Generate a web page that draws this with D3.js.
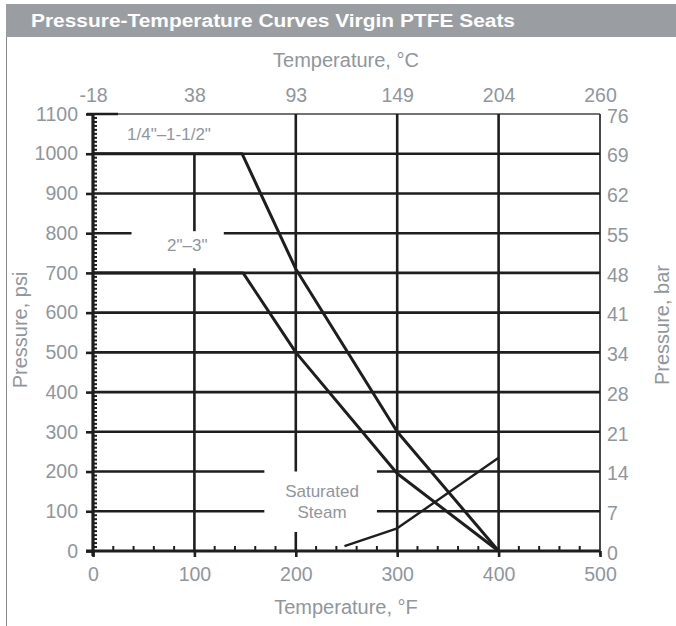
<!DOCTYPE html>
<html><head><meta charset="utf-8">
<script src="https://cdn.jsdelivr.net/npm/d3@7/dist/d3.min.js"></script>
<style>
html,body{margin:0;padding:0;background:#fff;}
svg{display:block;}
</style></head>
<body>
<script>
// ---- data ----
const fTicks = [0, 100, 200, 300, 400, 500];
const cLabels = ["-18", "38", "93", "149", "204", "260"];
const psiTicks = [0, 100, 200, 300, 400, 500, 600, 700, 800, 900, 1000, 1100];
const barLabels = ["0", "7", "14", "21", "28", "34", "41", "48", "55", "62", "69", "76"];
const smallSizesF = [0, 147, 200, 300, 400];
const smallSizesPsi = [1000, 1000, 710, 300, 0];
const largeSizesF = [0, 148, 200, 300, 400];
const largeSizesPsi = [700, 700, 500, 195, 0];
const steamF = [248, 300, 400];
const steamPsi = [12, 57, 235];
// gridline pieces (pressure value, [from °F, to °F]) and (temperature value, [from psi, to psi])
const hGrid = [
  [100, [[0, 169], [280, 500]]],
  [200, [[0, 169], [280, 500]]],
  [300, [[0, 500]]], [400, [[0, 500]]], [500, [[0, 500]]], [600, [[0, 500]]],
  [700, [[0, 500]]],
  [800, [[0, 38], [129, 500]]],
  [900, [[0, 500]]], [1000, [[0, 500]]]
];
const vGrid = [
  [100, [[0, 712], [805, 1000]]],
  [200, [[0, 48], [200, 1100]]],
  [300, [[0, 1100]]],
  [400, [[0, 1100]]]
];

const W = 676, H = 626;
const svg = d3.select("body").append("svg").attr("width", W).attr("height", H);
const x = d3.scaleLinear().domain([0, 500]).range([93, 600]);
const y = d3.scaleLinear().domain([0, 1100]).range([551, 114]);
const ink = "#1e1e1e", grey = "#8f969d";
const font = "'Liberation Sans', Arial, sans-serif";

// frame + title bar
svg.append("rect").attr("x", 6).attr("y", 4).attr("width", W - 6).attr("height", 33).attr("fill", "#9a9ea2");
svg.append("line").attr("x1", 6.5).attr("x2", 6.5).attr("y1", 37).attr("y2", H).attr("stroke", "#8a8a8a").attr("stroke-width", 1);
svg.append("text").attr("x", 31).attr("y", 27).attr("fill", "#fff").attr("font-family", font)
  .attr("font-weight", "bold").attr("font-size", 18).attr("textLength", 484).attr("lengthAdjust", "spacingAndGlyphs")
  .text("Pressure-Temperature Curves Virgin PTFE Seats");

const g = svg.append("g");

// top and right borders (thin)
g.append("line").attr("x1", x(0)).attr("x2", x(500)).attr("y1", y(1100)).attr("y2", y(1100)).attr("stroke", "#444").attr("stroke-width", 1.5);
g.append("line").attr("x1", x(0) - 6).attr("x2", x(0) + 25).attr("y1", y(1100)).attr("y2", y(1100)).attr("stroke", ink).attr("stroke-width", 2.5);
g.append("line").attr("x1", x(500)).attr("x2", x(500)).attr("y1", y(1100)).attr("y2", y(0) + 4).attr("stroke", "#333").attr("stroke-width", 1.8);

// horizontal gridlines
hGrid.forEach(([p, segs]) => segs.forEach(([a, b]) => {
  g.append("line").attr("x1", x(a)).attr("x2", x(b)).attr("y1", y(p)).attr("y2", y(p))
    .attr("stroke", ink).attr("stroke-width", 2.6);
}));
// vertical gridlines
vGrid.forEach(([t, segs]) => segs.forEach(([a, b]) => {
  g.append("line").attr("x1", x(t)).attr("x2", x(t)).attr("y1", y(a)).attr("y2", y(b))
    .attr("stroke", ink).attr("stroke-width", 2.6);
}));

// minor ticks
const minorP = d3.range(10, 1100, 10).filter(v => v % 100 !== 0);
g.selectAll(".mp").data(minorP).join("line")
  .attr("x1", x(0)).attr("x2", x(0) + 4).attr("y1", d => y(d)).attr("y2", d => y(d))
  .attr("stroke", ink).attr("stroke-width", 2);
const minorT = d3.range(20, 500, 20).filter(v => v % 100 !== 0);
g.selectAll(".mt").data(minorT).join("line")
  .attr("x1", d => x(d)).attr("x2", d => x(d)).attr("y1", y(0)).attr("y2", y(0) - 5)
  .attr("stroke", ink).attr("stroke-width", 2);

// left and bottom axes (thick)
const axL = g.append("g").attr("transform", `translate(${x(0)},0)`)
  .call(d3.axisLeft(y).tickValues(psiTicks).tickFormat(d3.format("d")).tickSize(7).tickPadding(8));
axL.select(".domain").attr("d", `M0,${y(1100)}V${y(0) + 5}`).attr("stroke", ink).attr("stroke-width", 3.2);
axL.selectAll(".tick line").attr("stroke", ink).attr("stroke-width", 2.6);

const axB = g.append("g").attr("transform", `translate(0,${y(0)})`)
  .call(d3.axisBottom(x).tickValues(fTicks).tickFormat(d3.format("d")).tickSize(6).tickPadding(10));
axB.select(".domain").attr("d", `M${x(0) - 7},0H${x(500)}`).attr("stroke", ink).attr("stroke-width", 3.2);
axB.selectAll(".tick line").attr("stroke", ink).attr("stroke-width", 2.6);

const axT = g.append("g").attr("transform", `translate(0,${y(1100)})`)
  .call(d3.axisTop(x).tickValues(fTicks).tickFormat((d, i) => cLabels[i]).tickSize(0).tickPadding(12));
axT.select(".domain").remove();

const axR = g.append("g").attr("transform", `translate(${x(500)},0)`)
  .call(d3.axisRight(y).tickValues(psiTicks).tickFormat((d, i) => barLabels[i]).tickSize(0).tickPadding(7));
axR.select(".domain").remove();
axR.selectAll("text").attr("dy", "0.42em");

[axL, axB, axT, axR].forEach(a => a.selectAll("text").attr("fill", grey)
  .attr("font-family", font).attr("font-size", 19.5));

// curves
const line = d3.line().x(d => x(d[0])).y(d => y(d[1]));
const curve = (fs, ps, w) => g.append("path").datum(fs.map((f, i) => [f, ps[i]]))
  .attr("d", line).attr("fill", "none").attr("stroke", ink).attr("stroke-width", w)
  .attr("stroke-linejoin", "round");
curve(smallSizesF, smallSizesPsi, 3);
curve(largeSizesF, largeSizesPsi, 3);
curve(steamF, steamPsi, 2.4);

// inner labels
const lab = (tx, ty, s, anchor) => svg.append("text").attr("x", tx).attr("y", ty).attr("fill", grey)
  .attr("font-family", font).attr("font-size", 17).attr("text-anchor", anchor || "start").text(s);
lab(127, 140, '1/4"\u20131-1/2"');
lab(167, 251, '2"\u20133"');
lab(322, 497, "Saturated", "middle");
lab(322, 518, "Steam", "middle");

// axis titles
const tit = (tx, ty, s, rot) => svg.append("text").attr("transform", `translate(${tx},${ty}) rotate(${rot})`)
  .attr("fill", grey).attr("font-family", font).attr("font-size", 20).attr("text-anchor", "middle").text(s);
tit(346, 67, "Temperature, \u00B0C", 0);
tit(346, 614, "Temperature, \u00B0F", 0);
tit(27, 330, "Pressure, psi", -90);
tit(669, 325, "Pressure, bar", -90);
</script>
</body></html>
